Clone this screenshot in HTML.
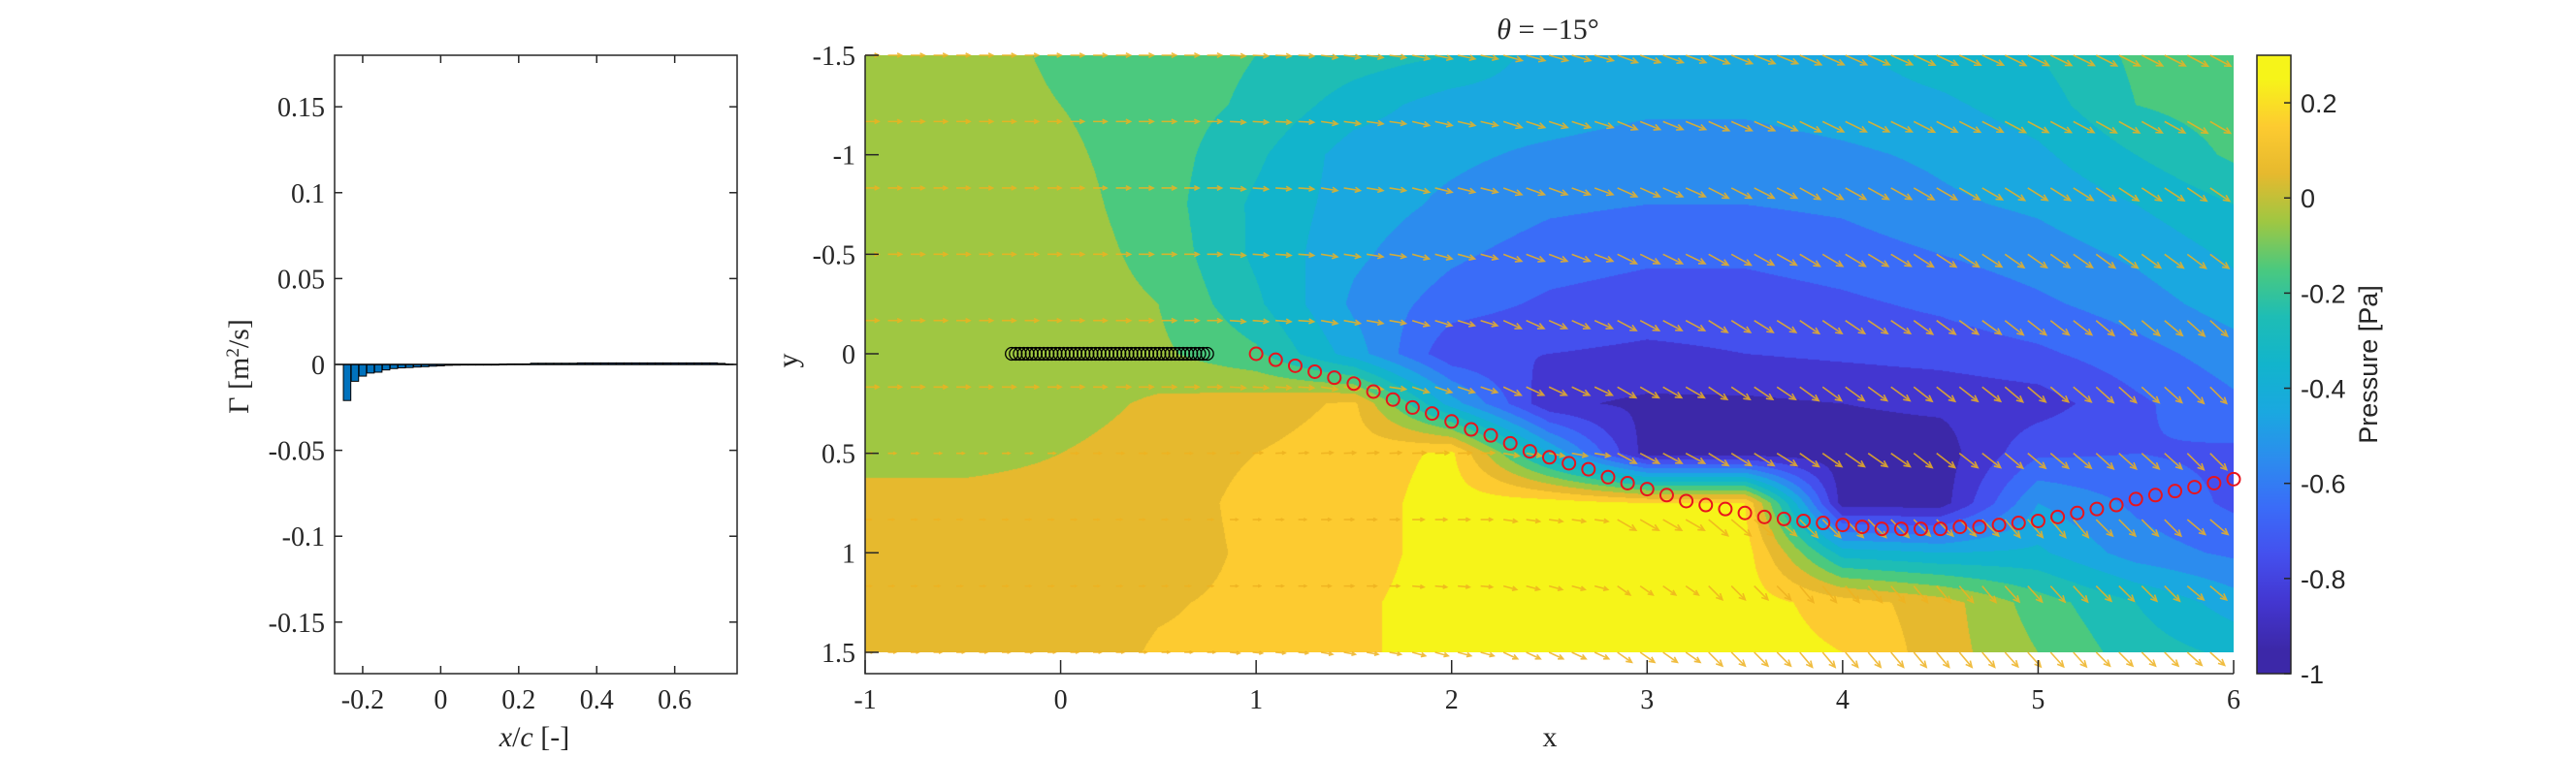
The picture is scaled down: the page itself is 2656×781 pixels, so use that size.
<!DOCTYPE html>
<html><head><meta charset="utf-8">
<style>
html,body{margin:0;padding:0;background:#fff;}
#wrap{position:relative;width:2656px;height:781px;overflow:hidden;}
#cv{position:absolute;left:892px;top:57px;}
svg{position:absolute;left:0;top:0;}
text{font-family:"Liberation Serif",serif;fill:#262626;}
.sans{font-family:"Liberation Sans",sans-serif;}
</style></head>
<body>
<div id="wrap">
<canvas id="cv" width="1411" height="616"></canvas>
<svg id="sv" width="2656" height="781" xmlns="http://www.w3.org/2000/svg">
  <defs><clipPath id="plotclip"><rect x="892" y="40" width="1411" height="655"/></clipPath></defs>
  <g id="left"></g>
  <g id="main"></g>
  <g id="cbar"></g>
</svg>
</div>
<script>
// ---------- Left bar chart data ----------
const barX = [-0.24,-0.22,-0.20,-0.18,-0.16,-0.14,-0.12,-0.10,-0.08,-0.06,-0.04,-0.02,0.00,0.02,0.04,0.06,0.08,0.10,0.12,0.14,0.16,0.18,0.20,0.22,0.24,0.26,0.28,0.30,0.32,0.34,0.36,0.38,0.40,0.42,0.44,0.46,0.48,0.50,0.52,0.54,0.56,0.58,0.60,0.62,0.64,0.66,0.68,0.70,0.72,0.74];
const barG = [-0.021,-0.0098,-0.0068,-0.0050,-0.0045,-0.0032,-0.0024,-0.0020,-0.0018,-0.0015,-0.0013,-0.0010,-0.0008,-0.0005,-0.0004,-0.0003,0,0,0,0,0.0002,0.0003,0.0003,0.0003,0.0007,0.0007,0.0007,0.0007,0.0007,0.0007,0.0009,0.0009,0.0009,0.0009,0.0009,0.0009,0.0009,0.0009,0.0009,0.0009,0.0009,0.0009,0.0009,0.0009,0.0009,0.0009,0.0009,0.0009,0.0006,0.0002];
const leftXTicks = [-0.2,0,0.2,0.4,0.6];
const leftXTickLabels = ["-0.2","0","0.2","0.4","0.6"];
const leftYTicks = [-0.15,-0.1,-0.05,0,0.05,0.1,0.15];
const leftYTickLabels = ["-0.15","-0.1","-0.05","0","0.05","0.1","0.15"];

// ---------- Main chart data ----------
const gridX = [-1,-0.5,0,0.5,1,1.5,2,2.5,3,3.5,4,4.5,5,5.5,6];
const gridY = [-1.5,-1.25,-1,-0.75,-0.5,-0.25,0,0.25,0.5,0.75,1,1.25,1.5];
const pRowM150 = [-0.05,-0.05,-0.12,-0.15,-0.2,-0.25,-0.3,-0.45,-0.45,-0.45,-0.42,-0.35,-0.3,-0.18,-0.12];
const pRowM125 = [-0.05,-0.05,-0.1,-0.15,-0.22,-0.35,-0.45,-0.45,-0.48,-0.48,-0.45,-0.42,-0.35,-0.2,-0.15];
const pRowM100 = [-0.05,-0.05,-0.08,-0.15,-0.28,-0.45,-0.48,-0.52,-0.55,-0.55,-0.52,-0.48,-0.42,-0.3,-0.18];
const pRowM075 = [-0.05,-0.05,-0.06,-0.15,-0.32,-0.45,-0.52,-0.58,-0.6,-0.6,-0.58,-0.52,-0.48,-0.4,-0.3];
const pRowM050 = [-0.05,-0.05,-0.05,-0.13,-0.32,-0.48,-0.58,-0.65,-0.68,-0.68,-0.65,-0.6,-0.55,-0.48,-0.38];
const pRowM025 = [-0.05,-0.05,-0.05,-0.1,-0.28,-0.52,-0.65,-0.72,-0.75,-0.75,-0.72,-0.68,-0.62,-0.55,-0.45];
const pRow000 = [-0.05,-0.05,-0.05,-0.08,-0.18,-0.45,-0.78,-0.8,-0.82,-0.8,-0.78,-0.76,-0.72,-0.64,-0.55];
const pRowP025 = [-0.05,-0.05,-0.05,0.02,0.05,0.12,-0.45,-0.88,-0.92,-0.92,-0.9,-0.88,-0.85,-0.72,-0.62];
const pRowP050 = [-0.05,-0.05,0.0,0.05,0.1,0.15,0.22,-0.4,-0.95,-0.95,-0.95,-0.95,-0.72,-0.7,-0.72];
const pRowP075 = [0.05,0.05,0.05,0.05,0.13,0.15,0.25,0.25,0.2,0.2,-0.95,-0.95,-0.5,-0.62,-0.72];
const pRowP100 = [0.05,0.05,0.05,0.05,0.12,0.15,0.25,0.25,0.25,0.25,-0.35,-0.4,-0.38,-0.55,-0.62];
const pRowP125 = [0.05,0.05,0.05,0.09,0.12,0.18,0.25,0.25,0.25,0.25,0.15,0.05,-0.15,-0.3,-0.45];
const pRowP150 = [0.05,0.05,0.05,0.11,0.12,0.18,0.25,0.25,0.25,0.25,0.2,0.05,-0.1,-0.25,-0.32];
const levelColors = ["#3c28a8","#4336d0","#4450ee","#3a6cf8","#2c8cee","#1aa8e0","#12b4cc","#1ebdb5","#4bc97e","#9fc742","#e6b92e","#fdcb30","#f6f419"];
const arrowRowY = [-1.5,-1.167,-0.833,-0.5,-0.167,0.167,0.5,0.833,1.167,1.5];
const arrAng0 = [0,0,0,0,3,8,12,16,20,22,24,25,26,27,28];
const arrAng1 = [0,0,0,0,3,8,13,18,22,24,26,27,28,29,30];
const arrAng2 = [0,0,0,0,4,9,14,20,24,27,29,30,32,33,34];
const arrAng3 = [0,0,0,0,4,9,15,21,26,29,31,33,35,36,37];
const arrAng4 = [0,0,0,0,4,10,17,24,28,32,34,36,38,40,42];
const arrAng5 = [0,0,0,0,3,8,18,25,30,34,36,38,40,42,45];
const arrAng6 = [0,0,0,0,-3,-3,-2,10,28,32,35,38,40,42,45];
const arrAng7 = [0,0,0,0,0,0,0,8,30,40,45,45,50,45,40];
const arrAng8 = [0,0,0,0,0,0,5,15,35,45,50,50,48,45,40];
const arrAng9 = [0,0,0,0,5,10,15,25,35,45,50,50,48,45,42];
const arrMagTop = [14,14,14,15,16,17,18,20,22,23,24,24,24,24,24];
const arrMag6 = [8,8,8,8,10,12,14,16,22,24,24,24,24,24,24];
const arrMag7 = [6,6,6,6,8,10,12,14,22,26,26,24,24,24,24];
const arrMag8 = [6,6,6,6,8,10,12,14,16,20,22,22,22,22,22];
const arrMag9 = [8,8,8,8,10,12,14,16,18,20,20,20,20,20,20];
const wakeX = [1.0,1.1,1.2,1.3,1.4,1.5,1.6,1.7,1.8,1.9,2.0,2.1,2.2,2.3,2.4,2.5,2.6,2.7,2.8,2.9,3.0,3.1,3.2,3.3,3.4,3.5,3.6,3.7,3.8,3.9,4.0,4.1,4.2,4.3,4.4,4.5,4.6,4.7,4.8,4.9,5.0,5.1,5.2,5.3,5.4,5.5,5.6,5.7,5.8,5.9,6.0];
const wakeY = [0.00,0.03,0.06,0.09,0.12,0.15,0.19,0.23,0.27,0.30,0.34,0.38,0.41,0.45,0.49,0.52,0.55,0.58,0.62,0.65,0.68,0.71,0.74,0.76,0.78,0.80,0.82,0.83,0.84,0.85,0.86,0.87,0.88,0.88,0.88,0.88,0.87,0.87,0.86,0.85,0.84,0.82,0.80,0.78,0.76,0.73,0.71,0.69,0.67,0.65,0.63];
const mainXTicks = [-1,0,1,2,3,4,5,6];
const mainXTickLabels = ["-1","0","1","2","3","4","5","6"];
const mainYTicks = [-1.5,-1,-0.5,0,0.5,1,1.5];
const mainYTickLabels = ["-1.5","-1","-0.5","0","0.5","1","1.5"];
const cbarTicks = [-1,-0.8,-0.6,-0.4,-0.2,0,0.2];
const cbarTickLabels = ["-1","-0.8","-0.6","-0.4","-0.2","0","0.2"];

const NS = "http://www.w3.org/2000/svg";
function mk(parent, tag, attrs, txt){
  const e = document.createElementNS(NS, tag);
  for (const k in attrs) e.setAttribute(k, attrs[k]);
  if (txt !== undefined) e.textContent = txt;
  parent.appendChild(e);
  return e;
}

// ===== Left chart =====
(function(){
  const g = document.getElementById('left');
  const L=345, R=760, T=57, B=695;
  const xmin=-0.272, xmax=0.760, ymin=-0.18, ymax=0.18;
  const sx = v => L + (v-xmin)/(xmax-xmin)*(R-L);
  const sy = v => B - (v-ymin)/(ymax-ymin)*(B-T);
  const bw = (sx(0.02)-sx(0))*0.95;
  barX.forEach((x,i)=>{
    const y0=sy(0), y1=sy(barG[i]);
    const r = mk(g,'rect',{x:sx(x)-bw/2, y:Math.min(y0,y1), width:bw, height:Math.max(Math.abs(y1-y0),0.6), fill:'#0072bd', stroke:'#000','stroke-width':1});
    
    
  });
  const base = mk(g,'line',{x1:L,x2:R,y1:sy(0),y2:sy(0),stroke:'#000','stroke-width':1.5});
   
  const box = mk(g,'rect',{x:L,y:T,width:R-L,height:B-T,fill:'none',stroke:'#262626','stroke-width':1.5});
   
  leftXTicks.forEach((v,i)=>{
    const x=sx(v);
    mk(g,'line',{x1:x,x2:x,y1:B,y2:B-8,stroke:'#262626','stroke-width':1.5});
    mk(g,'line',{x1:x,x2:x,y1:T,y2:T+8,stroke:'#262626','stroke-width':1.5});
    const t=mk(g,'text',{x:x,y:731,'font-size':28,'text-anchor':'middle'},leftXTickLabels[i]);
     
  });
  leftYTicks.forEach((v,i)=>{
    const y=sy(v);
    mk(g,'line',{x1:L,x2:L+8,y1:y,y2:y,stroke:'#262626','stroke-width':1.5});
    mk(g,'line',{x1:R,x2:R-8,y1:y,y2:y,stroke:'#262626','stroke-width':1.5});
    const t=mk(g,'text',{x:335,y:y+10,'font-size':28,'text-anchor':'end'},leftYTickLabels[i]);
     
  });
  const xl=mk(g,'text',{x:551,y:770,'font-size':30,'text-anchor':'middle'});
  xl.innerHTML='<tspan font-style="italic">x</tspan>/<tspan font-style="italic">c</tspan> [-]';
   
  const yl=mk(g,'text',{x:0,y:0,'font-size':30,'text-anchor':'middle',transform:'translate(256,378) rotate(-90)'});
  yl.innerHTML='Γ [m<tspan baseline-shift="super" font-size="19">2</tspan>/s]';
   
})();

// ===== Main chart =====
const pGrid = [pRowM150,pRowM125,pRowM100,pRowM075,pRowM050,pRowM025,pRow000,pRowP025,pRowP050,pRowP075,pRowP100,pRowP125,pRowP150];
const arrAng = [arrAng0,arrAng1,arrAng2,arrAng3,arrAng4,arrAng5,arrAng6,arrAng7,arrAng8,arrAng9];
const arrMag = [arrMagTop,arrMagTop,arrMagTop,arrMagTop,arrMagTop,arrMagTop,arrMag6,arrMag7,arrMag8,arrMag9];
const ML=892, MR=2303, MT=57, MB=695;
const mxmin=-1, mxmax=6, mymin=-1.5;
const pxPerX=(MR-ML)/(mxmax-mxmin), pxPerY=205.33;
const msx = v => ML + (v-mxmin)*pxPerX;
const msy = v => MT + (v-mymin)*pxPerY;
function hex2rgb(h){return [parseInt(h.substr(1,2),16),parseInt(h.substr(3,2),16),parseInt(h.substr(5,2),16)];}
function field(x,y){
  const nx=gridX.length, ny=gridY.length;
  let fx=(x-gridX[0])/(gridX[1]-gridX[0]), fy=(y-gridY[0])/(gridY[1]-gridY[0]);
  fx=Math.max(0,Math.min(nx-1.0001,fx)); fy=Math.max(0,Math.min(ny-1.0001,fy));
  const i=Math.floor(fx), j=Math.floor(fy), ax=fx-i, ay=fy-j;
  return pGrid[j][i]*(1-ax)*(1-ay)+pGrid[j][i+1]*ax*(1-ay)+pGrid[j+1][i]*(1-ax)*ay+pGrid[j+1][i+1]*ax*ay;
}
(function(){
  const cv=document.getElementById('cv'), ctx=cv.getContext('2d');
  const W=cv.width,H=cv.height, img=ctx.createImageData(W,H);
  const cols=levelColors.map(hex2rgb);
  for(let py=0;py<H;py++){
    const y=mymin+(py+0.5)/pxPerY;
    for(let px=0;px<W;px++){
      const x=mxmin+(px+0.5)/pxPerX;
      const v=field(x,y);
      let k=Math.floor((v+1)/0.1); k=Math.max(0,Math.min(12,k));
      const c=cols[k], o=(py*W+px)*4;
      img.data[o]=c[0];img.data[o+1]=c[1];img.data[o+2]=c[2];img.data[o+3]=255;
    }
  }
  ctx.putImageData(img,0,0);

  const g=document.getElementById('main');
  const q=mk(g,'g',{stroke:'#edb120','stroke-width':1.6,'stroke-opacity':0.85,fill:'none','clip-path':'url(#plotclip)'});
   
  arrowRowY.forEach((ry,r)=>{
    for(let n=0;n<60;n++){
      const x=-1+n*6.88/59;
      const ci=Math.round((x-gridX[0])/(gridX[1]-gridX[0]));
      const a=arrAng[r][ci]*Math.PI/180, len=arrMag[r][ci];
      const x0=msx(x), y0=msy(ry), x1=x0+len*Math.cos(a), y1=y0+len*Math.sin(a);
      const h=Math.min(7,len*0.35);
      const p=mk(q,'path',{d:`M${x0},${y0}L${x1},${y1}M${x1-h*Math.cos(a-0.45)},${y1-h*Math.sin(a-0.45)}L${x1},${y1}L${x1-h*Math.cos(a+0.45)},${y1-h*Math.sin(a+0.45)}`});
      
      
    }
  });
  for(let n=0;n<50;n++){
    const x=-0.25+n*0.0204;
    const c=mk(g,'circle',{cx:msx(x),cy:msy(0),r:6.5,fill:'none',stroke:'#000','stroke-width':1.3});
    
    
  }
  wakeX.forEach((x,i)=>{
    const c=mk(g,'circle',{cx:msx(x),cy:msy(wakeY[i]),r:6.5,fill:'none',stroke:'#e8141c','stroke-width':2});
    
    
  });
  const ax=mk(g,'path',{d:`M${ML},${MT}L${ML},${MB}L${MR},${MB}`,fill:'none',stroke:'#262626','stroke-width':1.5});
   
  mainXTicks.forEach((v,i)=>{
    const x=msx(v);
    mk(g,'line',{x1:x,x2:x,y1:MB,y2:MB-14,stroke:'#262626','stroke-width':1.5});
    const t=mk(g,'text',{x:x,y:731,'font-size':28,'text-anchor':'middle'},mainXTickLabels[i]);
     
  });
  mainYTicks.forEach((v,i)=>{
    const y=msy(v);
    mk(g,'line',{x1:ML,x2:ML+14,y1:y,y2:y,stroke:'#262626','stroke-width':1.5});
    const t=mk(g,'text',{x:882,y:y+10,'font-size':28,'text-anchor':'end'},mainYTickLabels[i]);
     
  });
  const xl=mk(g,'text',{x:1598,y:770,'font-size':30,'text-anchor':'middle'},'x');
   
  const yl=mk(g,'text',{x:0,y:0,'font-size':30,'text-anchor':'middle',transform:'translate(822,372) rotate(-90)'},'y');
   
  const tt=mk(g,'text',{x:1596,y:40,'font-size':30,'text-anchor':'middle'});
  tt.innerHTML='<tspan font-style="italic">θ</tspan> = −15°';
   
})();

// ===== Colorbar =====
(function(){
  const g=document.getElementById('cbar');
  const L=2327,R=2362,T=57,B=695, vmin=-1, vmax=0.3;
  const sy=v=>B-(v-vmin)/(vmax-vmin)*(B-T);
  const defs=mk(g,'defs',{});
  const lg=mk(defs,'linearGradient',{id:'cbg',x1:0,y1:1,x2:0,y2:0});
  levelColors.forEach((c,i)=>{
    mk(lg,'stop',{offset:((i+0.5)/levelColors.length).toFixed(3),'stop-color':c});
  });
  const r=mk(g,'rect',{x:L,y:T,width:R-L,height:B-T,fill:'url(#cbg)',stroke:'#262626','stroke-width':1.5});
   
  cbarTicks.forEach((v,i)=>{
    const y=sy(v);
    mk(g,'line',{x1:R,x2:R-7,y1:y,y2:y,stroke:'#262626','stroke-width':1.5});
    const t=mk(g,'text',{x:2372,y:y+10,'font-size':27,'class':'sans'},cbarTickLabels[i]);
     
  });
  const lab=mk(g,'text',{x:0,y:0,'font-size':27,'class':'sans','text-anchor':'middle',transform:'translate(2451,376) rotate(-90)'},'Pressure [Pa]');
   
})();
</script>
</body></html>
